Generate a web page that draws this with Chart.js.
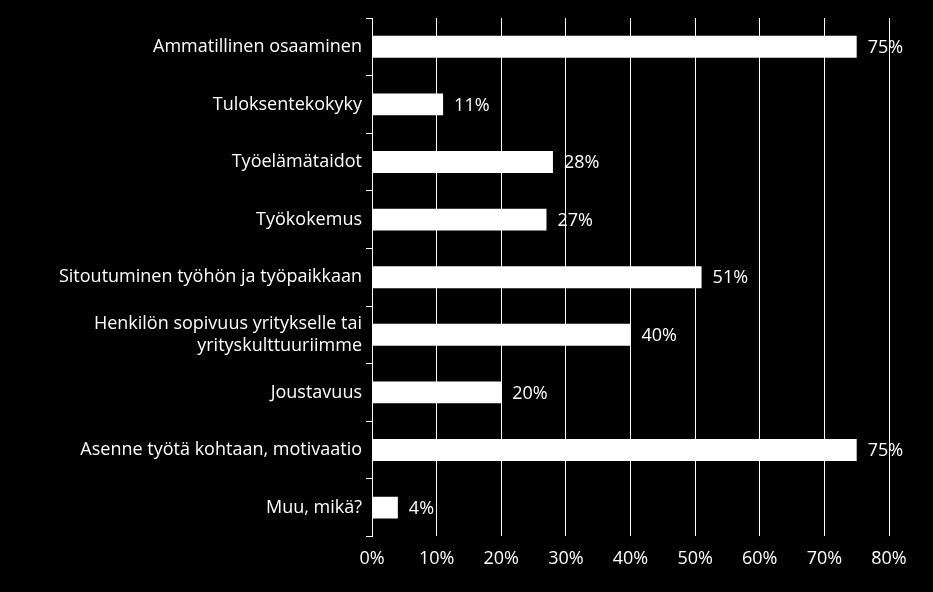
<!DOCTYPE html>
<html><head><meta charset="utf-8">
<script src="https://cdn.jsdelivr.net/npm/chart.js@4"></script>
<style>html,body{margin:0;background:#000;}#w{width:933px;height:592px;}</style>
</head><body><div id="w"><canvas id="c"></canvas></div>
<script>
const categories = ["Ammatillinen osaaminen","Tuloksentekokyky","Työelämätaidot","Työkokemus","Sitoutuminen työhön ja työpaikkaan",["Henkilön sopivuus yritykselle tai","yrityskulttuuriimme"],"Joustavuus","Asenne työtä kohtaan, motivaatio","Muu, mikä?"];
const values = [75,11,28,27,51,40,20,75,4];
const font = {family:"Open Sans", size:18};
const labelPlugin = {id:'lbl', afterDatasetsDraw(ch){
  const ctx=ch.ctx; const meta=ch.getDatasetMeta(0);
  ctx.save(); ctx.fillStyle='#fff'; ctx.font='18px "Open Sans"'; ctx.textBaseline='middle';
  meta.data.forEach((b,i)=>{ctx.fillText(values[i]+'%', b.x+11, b.y+1);});
  ctx.restore();
}};
new Chart(document.getElementById('c'),{
  type:'bar',
  data:{labels:categories,datasets:[{data:values,backgroundColor:'#fff',barPercentage:0.38,categoryPercentage:1}]},
  options:{indexAxis:'y',responsive:true,maintainAspectRatio:false,animation:false,
    layout:{padding:{top:18,right:44,bottom:10,left:0}},
    plugins:{legend:{display:false},tooltip:{enabled:false}},
    scales:{
      x:{min:0,max:80,ticks:{stepSize:10,color:'#fff',font,callback:v=>v+'%',padding:12},
         grid:{color:'#fff',lineWidth:1,drawTicks:false},border:{display:false}},
      y:{ticks:{color:'#fff',font,padding:4},
         afterFit(s){s.width=372;},
         grid:{display:true,offset:true,drawOnChartArea:false,color:'#fff',tickLength:6},
         border:{color:'#fff',width:1}}
    }}
  ,plugins:[labelPlugin]});
</script></body></html>
